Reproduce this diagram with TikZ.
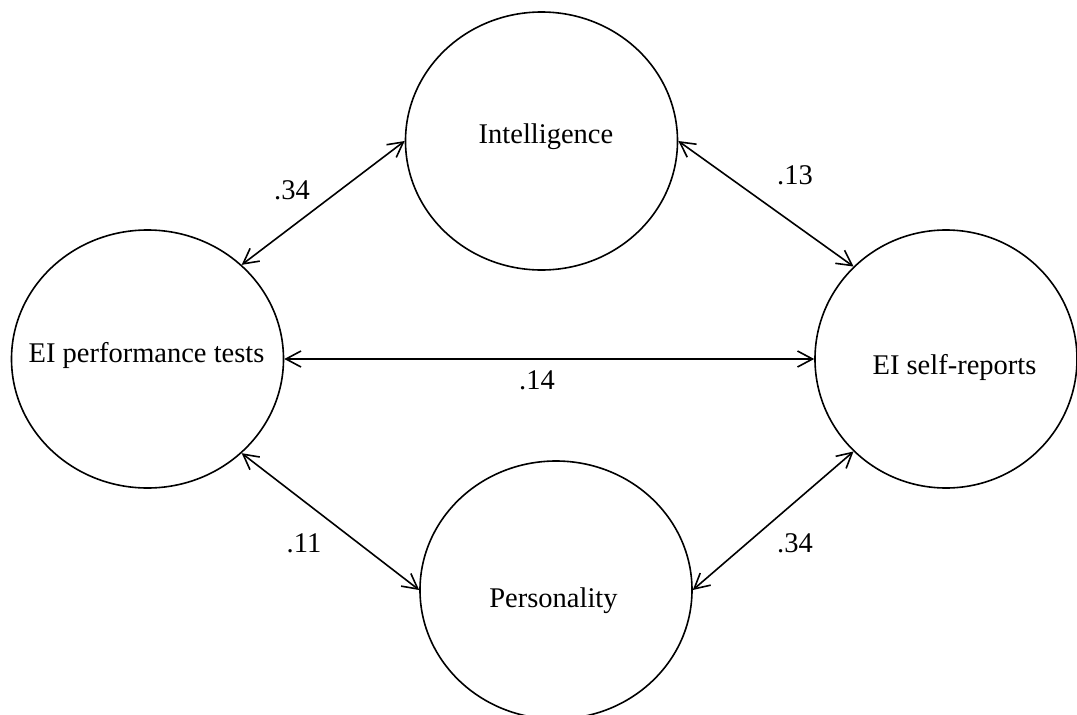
\documentclass[tikz,border=0pt]{standalone}
\usepackage{fontspec}
\setmainfont{Liberation Serif}
\usetikzlibrary{shapes.geometric,arrows.meta}
\begin{document}
\begin{tikzpicture}[x=1pt,y=-1pt,
  factor/.style={draw, ellipse, line width=1.6pt, inner sep=0pt,
    minimum width=272pt, minimum height=258pt},
  ftext/.style={font=\fontsize{28.5}{34}\selectfont, inner sep=0pt, anchor=base},
  coef/.style={font=\fontsize{28.5}{34}\selectfont, inner sep=0pt},
  link/.style={line width=1.6pt,
    {Straight Barb[length=15pt,width=16pt]}-{Straight Barb[length=15pt,width=16pt]}}]
\useasboundingbox (0,0) rectangle (1077,715);

% latent factors
\node[factor] (int) at (541.5,141) {};
\node[factor] (perf) at (147.5,359) {};
\node[factor, minimum width=262pt] (self) at (946,359) {};
\node[factor] (pers) at (556,590) {};

% factor names
\node[ftext] (int-t) at (546,143) {Intelligence};
\node[ftext] (perf-t) at (146.5,362) {EI performance tests};
\node[ftext] (self-t) at (954.5,374) {EI self-reports};
\node[ftext] (pers-t) at (553.5,607) {Personality};

% correlations
\draw[link] (perf.45) -- (int.west);
\draw[link] (int.east) -- (self.135);
\draw[link] (perf.east) -- (self.west);
\draw[link] (perf.-45) -- (pers.west);
\draw[link] (pers.east) -- (self.-135);

% coefficients
\node[coef] (c-perf-int) at (292,190) {.34};
\node[coef] (c-int-self) at (795,175) {.13};
\node[coef] (c-perf-self) at (537,380) {.14};
\node[coef] (c-perf-pers) at (304,543) {.11};
\node[coef] (c-pers-self) at (795,543) {.34};
\end{tikzpicture}
\end{document}
